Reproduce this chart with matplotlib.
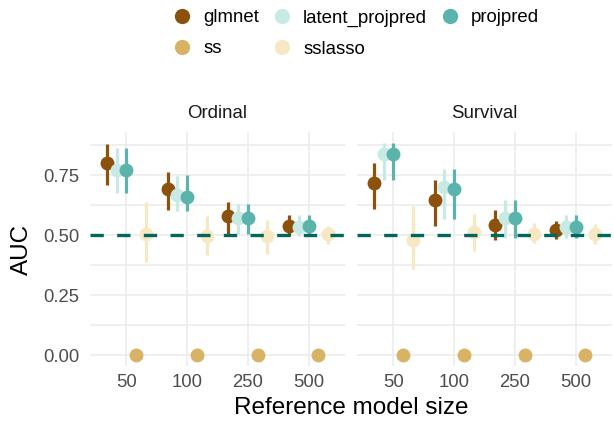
import numpy as np
import matplotlib
matplotlib.use("Agg")
from matplotlib import pyplot as plt
from matplotlib.lines import Line2D

plt.rcParams['font.family'] = ['Liberation Sans', 'DejaVu Sans']

sizes = ['50', '100', '250', '500']
panels = ['Ordinal', 'Survival']
methods = ['glmnet', 'latent_projpred', 'projpred', 'ss', 'sslasso']
colors = {'glmnet': '#8C510A', 'latent_projpred': '#C7EAE5', 'projpred': '#5AB4AC',
          'ss': '#D8B365', 'sslasso': '#F6E8C3'}

# AUC estimates and intervals, one list per method (values for 50, 100, 250, 500)
ord_mid = {
    'glmnet':          [0.800, 0.694, 0.579, 0.537],
    'latent_projpred': [0.770, 0.667, 0.574, 0.535],
    'projpred':        [0.770, 0.660, 0.574, 0.537],
    'ss':              [0.0, 0.0, 0.0, 0.0],
    'sslasso':         [0.507, 0.496, 0.496, 0.507],
}
ord_lo = {
    'glmnet':          [0.710, 0.607, 0.507, 0.496],
    'latent_projpred': [0.674, 0.601, 0.504, 0.496],
    'projpred':        [0.674, 0.600, 0.504, 0.496],
    'ss':              [0.0, 0.0, 0.0, 0.0],
    'sslasso':         [0.390, 0.417, 0.420, 0.465],
}
ord_hi = {
    'glmnet':          [0.880, 0.764, 0.639, 0.583],
    'latent_projpred': [0.865, 0.747, 0.629, 0.583],
    'projpred':        [0.865, 0.750, 0.629, 0.583],
    'ss':              [0.0, 0.0, 0.0, 0.0],
    'sslasso':         [0.640, 0.579, 0.562, 0.540],
}
surv_mid = {
    'glmnet':          [0.718, 0.646, 0.544, 0.521],
    'latent_projpred': [0.837, 0.699, 0.574, 0.535],
    'projpred':        [0.837, 0.694, 0.574, 0.535],
    'ss':              [0.0, 0.0, 0.0, 0.0],
    'sslasso':         [0.482, 0.514, 0.504, 0.507],
}
surv_lo = {
    'glmnet':          [0.608, 0.539, 0.482, 0.483],
    'latent_projpred': [0.729, 0.569, 0.489, 0.490],
    'projpred':        [0.729, 0.569, 0.489, 0.490],
    'ss':              [0.0, 0.0, 0.0, 0.0],
    'sslasso':         [0.360, 0.433, 0.468, 0.465],
}
surv_hi = {
    'glmnet':          [0.800, 0.729, 0.604, 0.558],
    'latent_projpred': [0.886, 0.774, 0.646, 0.583],
    'projpred':        [0.886, 0.774, 0.646, 0.583],
    'ss':              [0.0, 0.0, 0.0, 0.0],
    'sslasso':         [0.620, 0.590, 0.553, 0.546],
}
data = {'Ordinal': (ord_mid, ord_lo, ord_hi), 'Survival': (surv_mid, surv_lo, surv_hi)}

W, H = 614, 421
fig = plt.figure(figsize=(W / 100, H / 100), dpi=100)

# panel boxes in pixels (left, right), top/bottom shared
boxes = [(90, 345), (357, 612)]
top, bottom = 132, 366
grid_col = '#EBEBEB'
dodge = 0.16

for k, (name, (x0, x1)) in enumerate(zip(panels, boxes)):
    ax = fig.add_axes([x0 / W, 1 - bottom / H, (x1 - x0) / W, (bottom - top) / H])
    mid, lo, hi = data[name]
    xs = np.arange(len(sizes))
    z = 3
    for j, m in enumerate(methods):
        xp = xs + (j - 2) * dodge
        ax.vlines(xp, lo[m], hi[m], color=colors[m], lw=2.3, zorder=z)
        ax.plot(xp, mid[m], 'o', color=colors[m], ms=10, mec='none', zorder=z + 0.5)
        z += 1
    ax.axhline(0.5, color='#01665E', lw=2.4, ls=(0, (4, 4)), zorder=20)

    ax.set_xlim(-0.6, 3.6)
    ax.set_ylim(-0.0443, 0.930)
    ax.set_xticks(xs)
    ax.set_xticklabels(sizes)
    ax.set_yticks([0, 0.25, 0.5, 0.75])
    ax.set_yticks([0.125, 0.375, 0.625, 0.875], minor=True)
    ax.set_yticklabels(['0.00', '0.25', '0.50', '0.75'])
    ax.grid(True, which='major', color=grid_col, lw=1.1, zorder=0)
    ax.grid(True, which='minor', axis='y', color=grid_col, lw=1.1, zorder=0)
    ax.set_axisbelow(True)
    for s in ax.spines.values():
        s.set_visible(False)
    ax.tick_params(which='both', length=0)
    ax.tick_params(axis='x', labelsize=13.3, labelcolor='#4D4D4D', pad=6)
    ax.tick_params(axis='y', labelsize=13.3, labelcolor='#4D4D4D', pad=7.5)
    if k == 1:
        ax.tick_params(axis='y', labelleft=False)
    ax.text(0.5, 1 + 19 / (bottom - top), name, transform=ax.transAxes,
            ha='center', va='center', fontsize=13.4, color='#1A1A1A')

fig.text(22 / W, 1 - 249 / H, 'AUC', rotation=90, ha='center', va='center', fontsize=17.5)
fig.text(351.5 / W, 1 - 408 / H, 'Reference model size', ha='center', va='center', fontsize=17.5)

# legend order fills column-wise: glmnet/ss, latent_projpred/sslasso, projpred
leg_order = ['glmnet', 'ss', 'latent_projpred', 'sslasso', 'projpred']
handles = [Line2D([], [], ls='none', marker='o', ms=11, mec='none', color=colors[m])
           for m in leg_order]
fig.legend(handles, leg_order, loc='upper center', bbox_to_anchor=(356 / W, 1.0),
           ncol=3, frameon=False, fontsize=13.4, handlelength=1.0,
           handletextpad=0.63, columnspacing=0.72, labelspacing=0.75,
           borderaxespad=0.1)

fig.savefig('out.png', dpi=100)
